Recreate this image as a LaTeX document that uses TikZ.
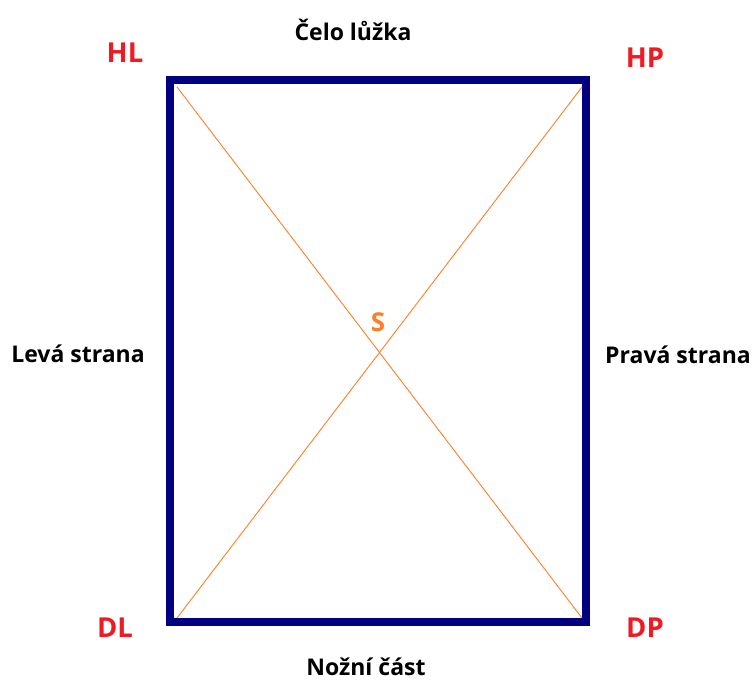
\documentclass[tikz,border=0pt]{standalone}
\usepackage{fontspec}
\setmainfont{Open Sans}
\definecolor{framenavy}{HTML}{000080}
\definecolor{cornerred}{HTML}{ED1C24}
\definecolor{diagorange}{HTML}{FF7F27}
\begin{document}
\begin{tikzpicture}[x=1pt,y=-1pt,
  sidelabel/.style={font=\bfseries\fontsize{23}{27}\selectfont, text=black, inner sep=0pt},
  cornerlabel/.style={font=\bfseries\fontsize{27.5}{32}\selectfont, text=cornerred, inner sep=0pt},
  centerlabel/.style={font=\bfseries\fontsize{26}{30}\selectfont, text=diagorange, inner sep=0pt},
  frame/.style={draw=framenavy, line width=7.5pt, line join=miter},
  diag/.style={draw=diagorange, line width=0.9pt}]
  \useasboundingbox (0,0) rectangle (754,682);
  % bed outline
  \draw[frame] (170,80) rectangle (586,622);
  % inner corners for the diagonals
  \coordinate (ihl) at (177,87);
  \coordinate (ihp) at (582,87);
  \coordinate (idl) at (177,618);
  \coordinate (idp) at (582,618);
  \draw[diag] (ihl) -- (idp);
  \draw[diag] (ihp) -- (idl);
  % labels
  \node[sidelabel] (head) at (353,30) {Čelo lůžka};
  \node[sidelabel] (foot) at (366,667) {Nožní část};
  \node[sidelabel] (left) at (78,354) {Levá strana};
  \node[sidelabel] (right) at (678,355) {Pravá strana};
  \node[cornerlabel] (hl) at (125,53) {HL};
  \node[cornerlabel] (hp) at (645,58) {HP};
  \node[cornerlabel] (dl) at (115,628) {DL};
  \node[cornerlabel] (dp) at (645,628) {DP};
  \node[centerlabel] (s) at (378,322) {S};
\end{tikzpicture}
\end{document}
